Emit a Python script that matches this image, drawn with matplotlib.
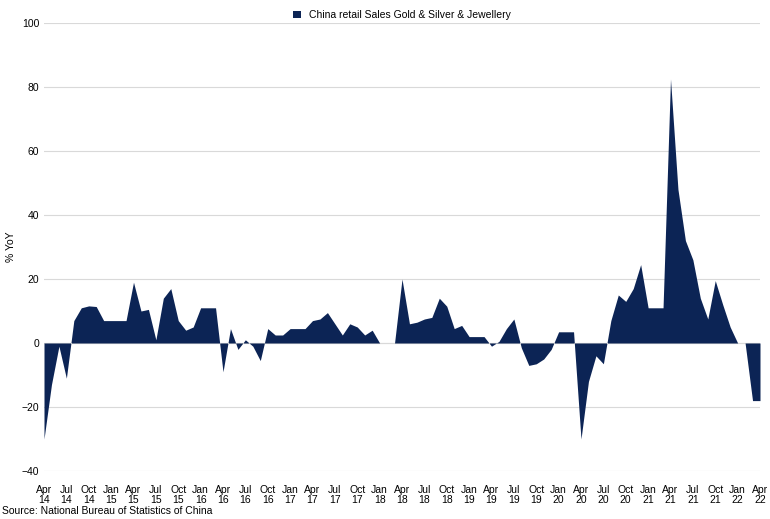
import matplotlib
matplotlib.use("Agg")
import matplotlib.pyplot as plt
import numpy as np

y2014 = [-30, -13, -1, -11, 7, 11, 11.6, 11.4, 7]
y2015 = [7, 7, 7, 19, 10, 10.5, 1, 14, 17, 7, 4, 5]
y2016 = [11, 11, 11, -9, 4.5, -2, 1, -1, -5.5, 4.5, 2.5, 2.5]
y2017 = [4.5, 4.5, 4.5, 7, 7.5, 9.5, 6, 2.5, 6, 5, 2.5, 4]
y2018 = [0, 0, 0, 20, 6, 6.5, 7.5, 8, 14, 11.5, 4.5, 5.5]
y2019 = [2, 2, 2, -1, 0.5, 4.5, 7.5, -1.5, -7, -6.5, -5, -2]
y2020 = [3.5, 3.5, 3.5, -30, -12, -4, -6.5, 7, 15, 13, 17, 24.5]
y2021 = [11, 11, 11, 82.5, 48, 32, 26, 14, 7.5, 19.5, 12, 5]
y2022 = [0, 0, -18, -18]
values = y2014 + y2015 + y2016 + y2017 + y2018 + y2019 + y2020 + y2021 + y2022
series_name = "China retail Sales Gold & Silver & Jewellery"
months = ["Jan", "Apr", "Jul", "Oct"]

x = np.arange(len(values))
color = "#0c2455"

fig = plt.figure(figsize=(7.7, 5.19), dpi=100)
ax = fig.add_axes([44/770, 1-471/519, (760-44)/770, (471-23)/519])
ax.fill_between(x, values, 0, color=color, linewidth=0, label=series_name)
ax.set_xlim(0, len(values)-1)
ax.set_ylim(-40, 100)
ax.set_yticks(range(-40, 101, 20))
ax.yaxis.grid(True, color="#d9d9d9", linewidth=0.8)
ax.set_axisbelow(True)
for s in ax.spines.values():
    s.set_visible(False)
ax.axhline(0, color="#d9d9d9", linewidth=0.8, zorder=0)

ticks = list(range(0, len(values), 3))
labels = []
for t in ticks:
    m = (3 + t) % 12  # month index 0-based, Apr=3
    yr = 14 + (3 + t) // 12
    labels.append(f"{['Jan','','','Apr','','','Jul','','','Oct','',''][m]}\n{yr}")
ax.set_xticks(ticks)
ax.set_xticklabels(labels, fontsize=7.5, family="Liberation Sans", linespacing=1.0)
ax.tick_params(axis="x", length=0, pad=10)
ax.tick_params(axis="y", length=0, labelsize=7.5)
for l in ax.get_yticklabels():
    l.set_family("Liberation Sans")
ax.set_ylabel("% YoY", fontsize=7.5, family="Liberation Sans")

ax.legend(loc="upper center", bbox_to_anchor=(0.5, 1.05), frameon=False,
          prop={"family": "Liberation Sans", "size": 7.5}, handlelength=0.7, handleheight=0.7)
fig.text(2/770, 1-514/519, "Source: National Bureau of Statistics of China",
         fontsize=7.5, family="Liberation Sans", va="baseline")
fig.savefig("out.png", dpi=100)
